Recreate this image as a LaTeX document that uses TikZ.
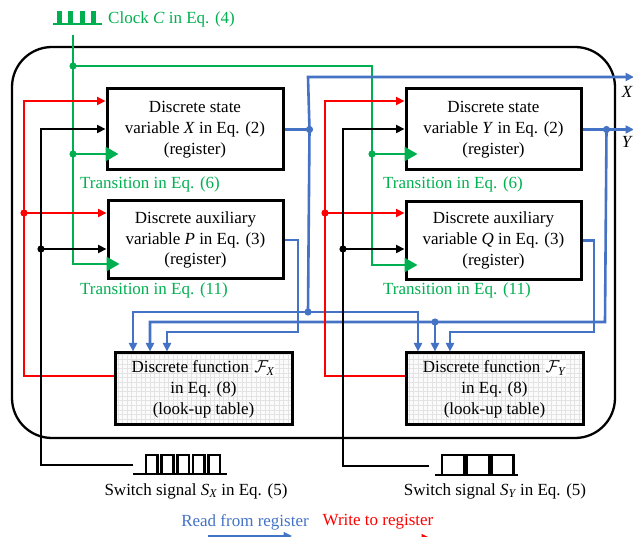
\documentclass[tikz,border=0pt]{standalone}
\usepackage{fontspec}
\setmainfont{Liberation Serif}
\usepackage{amsmath}
\usetikzlibrary{arrows.meta,calc}
\definecolor{cgreen}{RGB}{0,176,80}
\definecolor{cblue}{RGB}{68,114,196}
\definecolor{cred}{RGB}{255,0,0}
\setlength{\fboxsep}{1pt}

\begin{document}
\begin{tikzpicture}[x=1pt,y=-1pt,
  every node/.style={font=\fontsize{17}{20.8}\selectfont, inner sep=0pt},
  reg/.style={draw, line width=3pt, fill=white, align=center},
  lut/.style={reg, fill=gray!3,
    path picture={\draw[gray!22, line width=0.4pt, step=4.6pt]
      (path picture bounding box.south west) grid (path picture bounding box.north east);}},
  wire/.style={line width=2.6pt},
  gw/.style={wire, draw=cgreen},
  bw/.style={wire, draw=cblue},
  rw/.style={wire, draw=cred},
  kw/.style={wire, draw=black},
  arr/.style={-{Triangle[length=8.5pt,width=8pt]}},
  clk/.style={-{Triangle[length=13pt,width=14pt]}},
  sig/.style={line width=2.6pt, line join=miter}
]
\useasboundingbox (0,0) rectangle (633,537);

% outer frame
\draw[line width=2.3pt, rounded corners=40pt] (12,47) rectangle (615,438);

% registers and look-up tables
\node[reg, minimum width=176pt, minimum height=81pt] (X) at (195,129.5)
  {Discrete state\\variable \textit{X} in Eq. (2)\\(register)};
\node[reg, minimum width=175pt, minimum height=81pt] (Y) at (493.5,129.5)
  {Discrete state\\variable \textit{Y} in Eq. (2)\\(register)};
\node[reg, minimum width=175pt, minimum height=78pt] (P) at (195.5,240)
  {Discrete auxiliary\\variable \textit{P} in Eq. (3)\\(register)};
\node[reg, minimum width=175pt, minimum height=78pt] (Q) at (493.5,240.5)
  {Discrete auxiliary\\variable \textit{Q} in Eq. (3)\\(register)};
\node[lut, minimum width=177pt, minimum height=72pt] (FX) at (203.5,389)
  {Discrete function \colorbox{white}{$\mathcal{F}_{\textit{X}}$}\\in Eq. (8)\\(look-up table)};
\node[lut, minimum width=177pt, minimum height=72pt] (FY) at (494.5,389)
  {Discrete function \colorbox{white}{$\mathcal{F}_{\textit{Y}}$}\\in Eq. (8)\\(look-up table)};

% clock
\draw[sig, cgreen] (53,24) -- (102,24);
\foreach \cx in {58,69.5,81,92.5}
  \draw[sig, cgreen] (\cx,24) -- (\cx,12) -- (\cx+2.5,12) -- (\cx+2.5,24);
\node[anchor=west, text=cgreen] (clock) at (108,19) {Clock \textit{C} in Eq. (4)};

\coordinate (gT) at (73,35);
\coordinate (g1) at (73,66);
\coordinate (g2) at (73,154);
\coordinate (g3) at (73,264);
\coordinate (g4) at (372,66);
\coordinate (g5) at (372,154);
\coordinate (g6) at (372,265);
\draw[gw, clk] (gT) -- (g3) -- ($(g3 -| P.west)+(13,0)$);
\draw[gw, clk] (g2) -- ($(g2 -| X.west)+(13,0)$);
\draw[gw, clk] (g1) -- (g4) -- (g6) -- ($(g6 -| Q.west)+(13,0)$);
\draw[gw, clk] (g5) -- ($(g5 -| Y.west)+(13,0)$);
\foreach \p in {g1,g2,g5} \fill[cgreen] (\p) circle (3.6pt);

\node[anchor=west, text=cgreen] (t6x) at (80,184) {Transition in Eq. (6)};
\node[anchor=west, text=cgreen] (t11x) at (80,290) {Transition in Eq. (11)};
\node[anchor=west, text=cgreen] (t6y) at (383,184) {Transition in Eq. (6)};
\node[anchor=west, text=cgreen] (t11y) at (383,290) {Transition in Eq. (11)};

% reads from the registers
\path (X.east) ++(25,0) coordinate (xd);
\path (Y.east) ++(24,0) coordinate (yd);
\coordinate (xTop) at (308,77);
\coordinate (xOut) at (634,77);
\coordinate (yOut) at (634,129.5);
\coordinate (xBus) at (308,312);
\coordinate (fx1) at (133,312);
\coordinate (fy1) at (418,312);
\coordinate (yBus) at (605,322);
\coordinate (fx2) at (150,322);
\coordinate (yJ) at (435,322);
\coordinate (pC) at (298,332);
\coordinate (fx3) at (167,332);
\coordinate (qC) at (594,332);
\coordinate (fy3) at (450,332);

\draw[bw] (X.east) -- (xd);
\draw[bw, arr] (xd) -- (xTop) -- (xOut);
\draw[bw] (xd) -- (xBus);
\draw[bw, arr] (xBus) -- (fx1) -- (fx1 |- FX.north);
\draw[bw, arr] (xBus) -- (fy1) -- (fy1 |- FY.north);
\draw[bw, arr] (Y.east) -- (yOut);
\draw[bw, arr] (yd) -- (yBus) -- (fx2) -- (fx2 |- FX.north);
\draw[bw, arr] (yJ) -- (yJ |- FY.north);
\draw[bw, arr] (P.east) -| (pC) -- (fx3) -- (fx3 |- FX.north);
\draw[bw, arr] (Q.east) -| (qC) -- (fy3) -- (fy3 |- FY.north);
\foreach \p in {xd,yd,xBus,yJ} \fill[cblue] (\p) circle (3.6pt);

\node[anchor=east] (xlab) at (633,92) {\textit{X}};
\node[anchor=east] (ylab) at (633,142) {\textit{Y}};

% writes to the registers
\coordinate (rL1) at (24,101);
\coordinate (rL2) at (24,213);
\coordinate (rL3) at (24,376);
\coordinate (rR1) at (325,101);
\coordinate (rR2) at (325,213);
\coordinate (rR3) at (325,376);
\draw[rw, arr] (rL3 -| FX.west) -- (rL3) -- (rL1) -- (rL1 -| X.west);
\draw[rw, arr] (rL2) -- (rL2 -| P.west);
\draw[rw, arr] (rR3 -| FY.west) -- (rR3) -- (rR1) -- (rR1 -| Y.west);
\draw[rw, arr] (rR2) -- (rR2 -| Q.west);
\foreach \p in {rL2,rR2} \fill[cred] (\p) circle (3.6pt);

% switch signals
\coordinate (sx) at (133,465);
\coordinate (kL1) at (41,129);
\coordinate (kL2) at (41,249);
\coordinate (kL3) at (41,465);
\coordinate (sy) at (429,466);
\coordinate (kR1) at (343,129);
\coordinate (kR2) at (343,249);
\coordinate (kR3) at (343,466);
\draw[kw, arr] (sx) -- (kL3) -- (kL1) -- (kL1 -| X.west);
\draw[kw, arr] (kL2) -- (kL2 -| P.west);
\draw[kw, arr] (sy) -- (kR3) -- (kR1) -- (kR1 -| Y.west);
\draw[kw, arr] (kR2) -- (kR2 -| Q.west);
\foreach \p in {kL2,kR2} \fill (\p) circle (3.6pt);

\draw[sig] (133,474) -- (227,474);
\foreach \k in {0,...,4}
  \draw[sig] (146+15.6*\k,474) -- (146+15.6*\k,455) -- (157.6+15.6*\k,455) -- (157.6+15.6*\k,474);
\draw[sig] (435,475) -- (518,475);
\foreach \k in {0,1,2}
  \draw[sig] (442+24.7*\k,475) -- (442+24.7*\k,455) -- (464.2+24.7*\k,455) -- (464.2+24.7*\k,475);

\node (sxl) at (196,491) {Switch signal $\textit{S}_{\textit{X}}$ in Eq. (5)};
\node (syl) at (495,491) {Switch signal $\textit{S}_{\textit{Y}}$ in Eq. (5)};

% legend
\node[text=cblue] (lread) at (245,522) {Read from register};
\node[text=cred] (lwrite) at (378,522) {Write to register};
\coordinate (lb1) at (208,536);
\coordinate (lb2) at (292,536);
\coordinate (lr1) at (342,538);
\coordinate (lr2) at (430,538);
\draw[line width=1.2pt, cblue, arr] (lb1) -- (lb2);
\draw[line width=1.2pt, cred, arr] (lr1) -- (lr2);
\end{tikzpicture}
\end{document}
